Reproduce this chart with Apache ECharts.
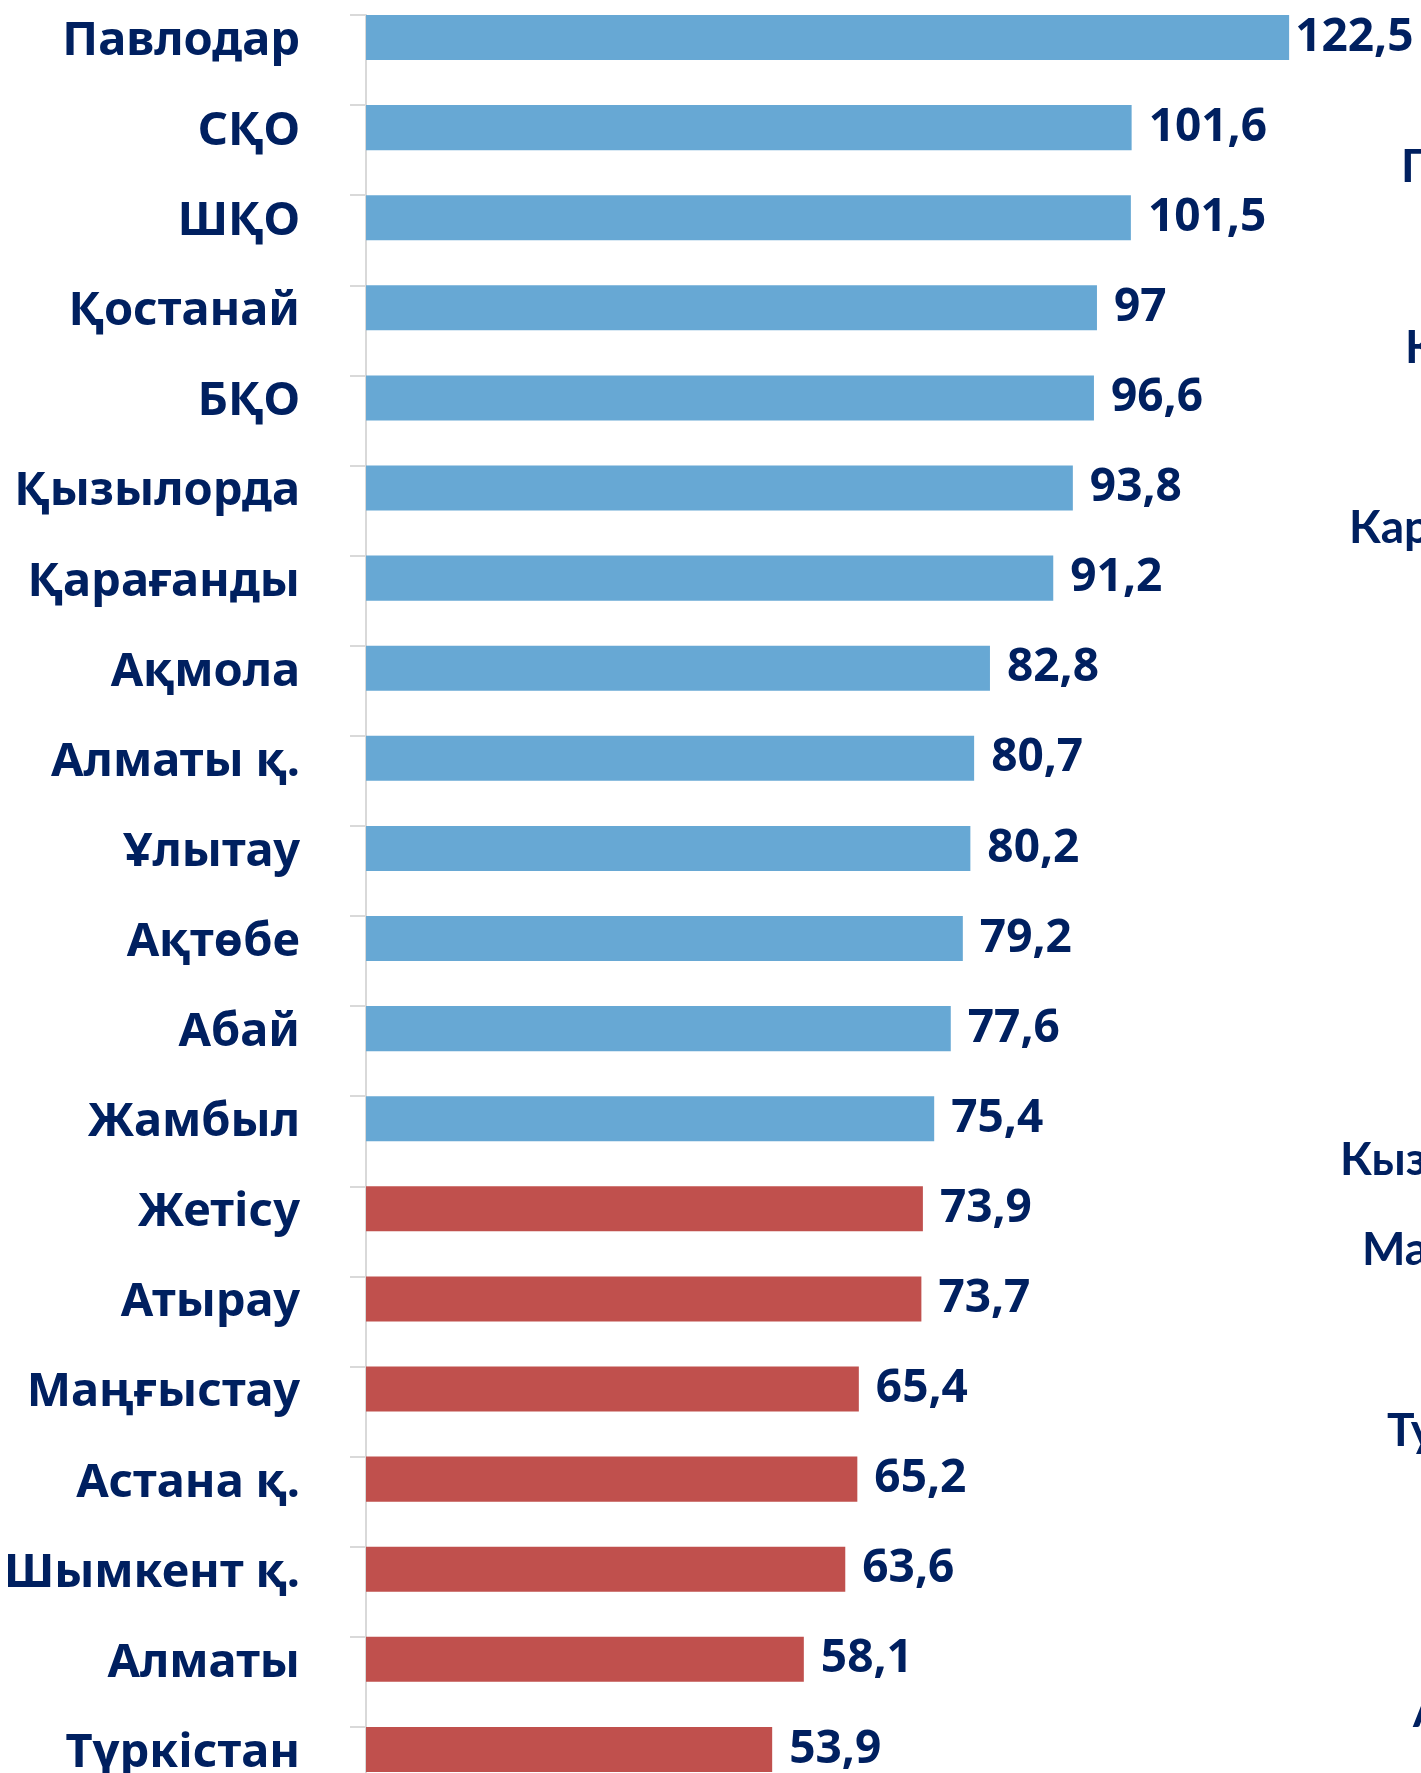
<!DOCTYPE html>
<html>
<head>
<meta charset="utf-8">
<script src="https://cdn.jsdelivr.net/npm/echarts@6/dist/echarts.min.js"></script>
<style>
  html, body { margin: 0; padding: 0; background: #fff; overflow: hidden; }
  /* taller than the window: the last row is cut off in the original */
  #chart { width: 1421px; height: 1840px; }
</style>
</head>
<body>
<div id="chart"></div>
<script>
// regions, top to bottom
const regions = ['Павлодар', 'СҚО', 'ШҚО', 'Қостанай', 'БҚО', 'Қызылорда', 'Қарағанды',
    'Ақмола', 'Алматы қ.', 'Ұлытау', 'Ақтөбе', 'Абай', 'Жамбыл', 'Жетісу', 'Атырау',
    'Маңғыстау', 'Астана қ.', 'Шымкент қ.', 'Алматы', 'Түркістан'];
const values = [122.5, 101.6, 101.5, 97, 96.6, 93.8, 91.2, 82.8, 80.7, 80.2, 79.2, 77.6,
    75.4, 73.9, 73.7, 65.4, 65.2, 63.6, 58.1, 53.9];
// first 13 regions are blue, the rest red
const blueCount = 13;
// empty second slot in each band (keeps bars in the upper half like the original)
const spacer = regions.map(() => 0);

// fragments of the neighbouring chart cut off at the right edge
const sideLabels = ['Павлодарская', 'Костанайская', 'Карагандинская', 'Кызылординская',
    'Мангистауская', 'Туркестанская', 'Алматинская'];

const NAVY = '#002060';
const BLUE = '#67A8D4';
const RED = '#C0504D';

const sidePos = [[1401, 167], [1405, 348], [1349, 528], [1340, 1160], [1362, 1250], [1387, 1431], [1413, 1712]];

const chart = echarts.init(document.getElementById('chart'), null, { renderer: 'canvas' });

// top bar sits close to the edge, so its label hugs the bar
const barData = values.map((v, i) => (i === 0 ? { value: v, label: { distance: 6 } } : v));

chart.setOption({
    animation: false,
    backgroundColor: '#ffffff',
    grid: { left: 366, top: 15, width: 1061, height: 1802, containLabel: false },
    xAxis: { type: 'value', min: 0, max: 140, show: false },
    yAxis: {
        type: 'category',
        data: regions,
        inverse: true,
        axisLine: { show: true, lineStyle: { color: '#D9D9D9', width: 2 } },
        axisTick: { show: true, length: 16, lineStyle: { color: '#D9D9D9', width: 2 } },
        axisLabel: {
            margin: 66,
            color: NAVY,
            fontFamily: 'Noto Sans',
            fontWeight: 'bold',
            fontSize: 47,
            lineHeight: 37,
            verticalAlign: 'bottom'
        }
    },
    series: [
        {
            type: 'bar',
            data: barData,
            barGap: '0%',
            barCategoryGap: '0%',
            itemStyle: { color: p => (p.dataIndex < blueCount ? BLUE : RED) },
            label: {
                show: true,
                position: 'right',
                distance: 17,
                color: NAVY,
                fontFamily: 'Noto Sans',
                fontWeight: 'bold',
                fontSize: 46,
                formatter: p => String(p.value).replace('.', ',')
            }
        },
        { type: 'bar', data: spacer, silent: true, itemStyle: { color: 'transparent' } }
    ],
    graphic: sideLabels.map((t, i) => ({
        type: 'text',
        x: sidePos[i][0],
        y: sidePos[i][1],
        style: {
            text: t,
            fill: NAVY,
            font: 'bold 46px Lato',
            verticalAlign: 'middle'
        }
    }))
});
</script>
</body>
</html>
